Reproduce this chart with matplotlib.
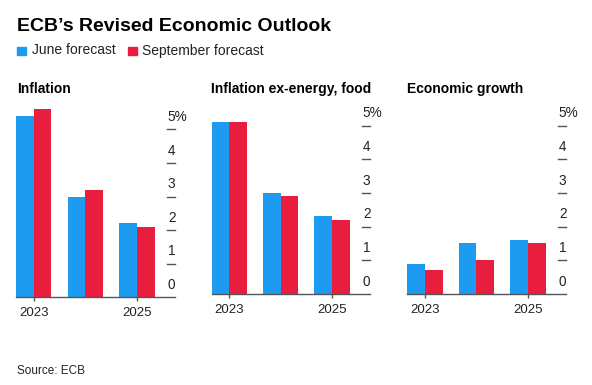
import matplotlib.pyplot as plt
import numpy as np
from matplotlib.transforms import blended_transform_factory

plt.rcParams['font.family'] = ['Liberation Sans', 'DejaVu Sans']

# data (percent)
years = ['2023', '2024', '2025']
panels = ['Inflation', 'Inflation ex-energy, food', 'Economic growth']
june = [[5.4, 3.0, 2.2], [5.1, 3.0, 2.3], [0.9, 1.5, 1.6]]
september = [[5.6, 3.2, 2.1], [5.1, 2.9, 2.2], [0.7, 1.0, 1.5]]
yticks = [0, 1, 2, 3, 4, 5]
ytick_labels = ['0', '1', '2', '3', '4', '5%']

blue = '#1D9BF0'
red = '#E91D3E'
W, H = 592, 385

fig = plt.figure(figsize=(W / 100, H / 100), dpi=100)

fig.text(17 / W, 1 - 31 / H, "ECB’s Revised Economic Outlook", fontsize=14,
         fontweight='bold', va='baseline', ha='left', color='black')

# legend
fig.patches.append(plt.Rectangle((17 / W, 1 - 55 / H), 9 / W, 8.5 / H,
                                 transform=fig.transFigure, color=blue))
fig.text(32 / W, 1 - 54.5 / H, 'June forecast', fontsize=10, va='baseline', color='#222222')
fig.patches.append(plt.Rectangle((127.5 / W, 1 - 55 / H), 9 / W, 8.5 / H,
                                 transform=fig.transFigure, color=red))
fig.text(142 / W, 1 - 54.5 / H, 'September forecast', fontsize=10, va='baseline', color='#222222')

# axes placement in pixels: (left, baseline, right, px per unit)
boxes = [(16, 297.3, 175, 33.6), (211.7, 294, 370, 33.7), (407.3, 294, 566, 33.7)]
title_x = [17, 211, 407]
bw = 0.344
x = np.arange(len(years))

for i in range(3):
    left, base, right, ppu = boxes[i]
    ymax = 6.0
    ax = fig.add_axes([left / W, 1 - base / H, (right - left) / W, ymax * ppu / H])
    ax.bar(x - bw / 2, june[i], width=bw, color=blue)
    ax.bar(x + bw / 2, september[i], width=bw, color=red)
    ax.set_xlim(-bw, 2.74)
    ax.set_ylim(0, ymax)
    for s in ['top', 'left', 'right']:
        ax.spines[s].set_visible(False)
    ax.spines['bottom'].set_color('#555555')
    ax.spines['bottom'].set_linewidth(1.0)
    ax.set_xticks([0, 2])
    ax.set_xticklabels(['2023', '2025'], fontsize=9.5, color='#222222')
    ax.tick_params(axis='x', length=3, width=1, color='#555555', pad=4)
    ax.set_yticks([])
    tr = blended_transform_factory(ax.transAxes, ax.transData)
    tick_len = 8.5 / (right - left)
    for v, lab in zip(yticks, ytick_labels):
        if v > 0:
            ax.plot([1 - tick_len, 1], [v, v], transform=tr, color='#555555', lw=1,
                    clip_on=False)
        ax.annotate(lab, xy=(1 - tick_len, v), xycoords=tr, xytext=(1, 6),
                    textcoords='offset points', ha='left', va='baseline',
                    fontsize=9.8, color='#222222')
    fig.text(title_x[i] / W, 1 - 93 / H, panels[i], fontsize=10, fontweight='bold',
             va='baseline', ha='left', color='black')

fig.text(17 / W, 1 - 370.5 / H, 'Source: ECB', fontsize=8.5, va='center', ha='left',
         color='#222222')

fig.savefig('out.png', dpi=100, facecolor='white')
